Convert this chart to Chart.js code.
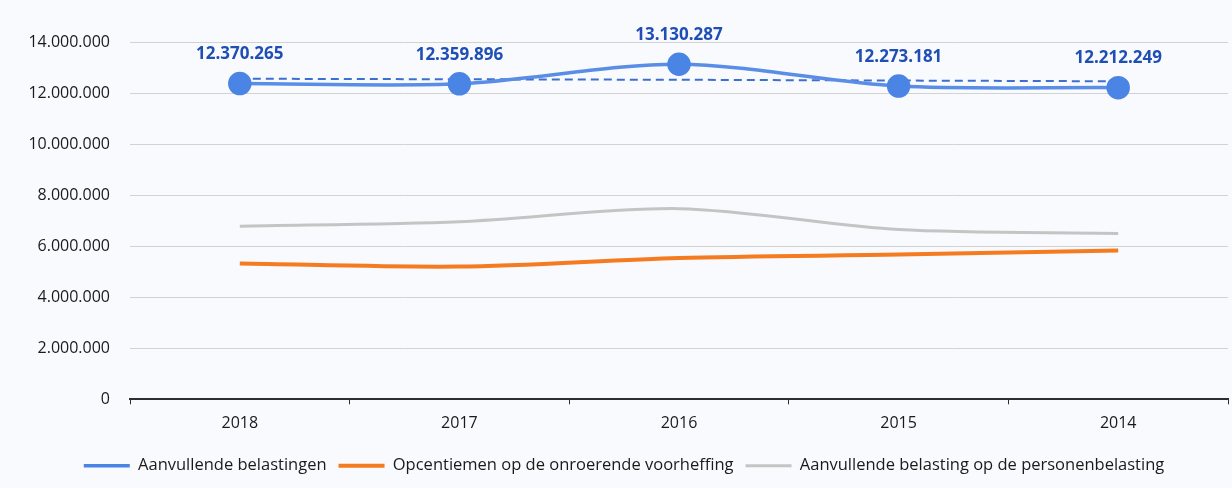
<!DOCTYPE html>
<html>
<head>
<meta charset="utf-8">
<script src="https://cdn.jsdelivr.net/npm/chart.js@4.4.1/dist/chart.umd.min.js"></script>
<style>
  html,body{ margin:0; padding:0; background:#f9fafd; }
  #wrap{ width:1232px; height:488px; position:relative; }
</style>
</head>
<body>
<div id="wrap"><canvas id="chart"></canvas></div>
<script>
// ── DATA ────────────────────────────────────────────────
const years = ['2018','2017','2016','2015','2014'];
const aanvullend    = [12370265, 12359896, 13130287, 12273181, 12212249];
const trendAanv     = [12560000, 12540000, 12520000, 12490000, 12460000];
const opcentiemen   = [5320000, 5200000, 5540000, 5670000, 5830000];
const personenbel   = [6780000, 6960000, 7470000, 6650000, 6500000];
const yTicks        = [0, 2000000, 4000000, 6000000, 8000000, 10000000, 12000000, 14000000];

const seriesNames = [
  'Aanvullende belastingen',
  'Opcentiemen op de onroerende voorheffing',
  'Aanvullende belasting op de personenbelasting'
];

// ── UTILS ───────────────────────────────────────────────
function fmt(n){ return String(Math.round(n)).replace(/\B(?=(\d{3})+(?!\d))/g,'.'); }
const FONT = '"Open Sans", sans-serif';

// labels boven de blauwe punten
const valueLabels = {
  id:'valueLabels',
  afterDatasetsDraw(chart){
    const meta = chart.getDatasetMeta(0);
    const ctx = chart.ctx;
    ctx.save();
    ctx.font = 'bold 17px ' + FONT;
    ctx.fillStyle = '#1f4fb5';
    ctx.textAlign = 'center';
    ctx.textBaseline = 'middle';
    meta.data.forEach((pt,i)=>{
      ctx.fillText(fmt(aanvullend[i]), pt.x, pt.y - 29);
    });
    ctx.restore();
  }
};

// ── CHART ───────────────────────────────────────────────
new Chart(document.getElementById('chart'), {
  type:'line',
  data:{
    labels: years,
    datasets:[
      {
        label: seriesNames[0],
        data: aanvullend,
        borderColor:'#5a8ee6',
        backgroundColor:'#4a84e4',
        borderWidth:3.5,
        pointRadius:10,
        pointHoverRadius:10,
        pointBackgroundColor:'#4a84e4',
        pointBorderColor:'#4a84e4',
        tension:0.3,
        order:1
      },
      {
        label:'trend',
        data: trendAanv,
        borderColor:'#3c6fd0',
        borderWidth:2,
        borderDash:[8,5],
        pointRadius:0,
        tension:0,
        order:2
      },
      {
        label: seriesNames[1],
        data: opcentiemen,
        borderColor:'#f47b20',
        backgroundColor:'#f47b20',
        borderWidth:4,
        pointRadius:0,
        tension:0.3,
        order:3
      },
      {
        label: seriesNames[2],
        data: personenbel,
        borderColor:'#c4c4c4',
        backgroundColor:'#c4c4c4',
        borderWidth:3,
        pointRadius:0,
        tension:0.3,
        order:4
      }
    ]
  },
  options:{
    responsive:true,
    maintainAspectRatio:false,
    animation:false,
    layout:{ autoPadding:false, padding:{ top:42, right:4, left:20, bottom:4 } },
    plugins:{
      tooltip:{ enabled:false },
      legend:{
        position:'bottom',
        labels:{
          filter:item=>item.text!=='trend',
          usePointStyle:true,
          pointStyle:'line',
          pointStyleWidth:46,
          color:'#1a1a1a',
          font:{ family:FONT, size:16.5 },
          padding:12
        }
      }
    },
    scales:{
      x:{
        offset:true,
        border:{ display:true, color:'#2b2f33', width:2 },
        grid:{ display:true, offset:true, drawOnChartArea:false, drawTicks:true, tickLength:5, color:'#2b2f33' },
        ticks:{ color:'#1a1a1a', font:{ family:FONT, size:16 }, padding:10 },
        afterFit:axis=>{ axis.height += 2; }
      },
      y:{
        min:0,
        max:14000000,
        afterBuildTicks:axis=>{ axis.ticks = yTicks.map(v=>({ value:v })); },
        afterFit:axis=>{ axis.width = 110; },
        border:{ display:false },
        grid:{ color:'#d2d2d2', lineWidth:1, drawTicks:false },
        ticks:{
          color:'#1a1a1a',
          font:{ family:FONT, size:16 },
          padding:20,
          callback:v=>fmt(v)
        }
      }
    }
  },
  plugins:[valueLabels]
});
</script>
</body>
</html>
